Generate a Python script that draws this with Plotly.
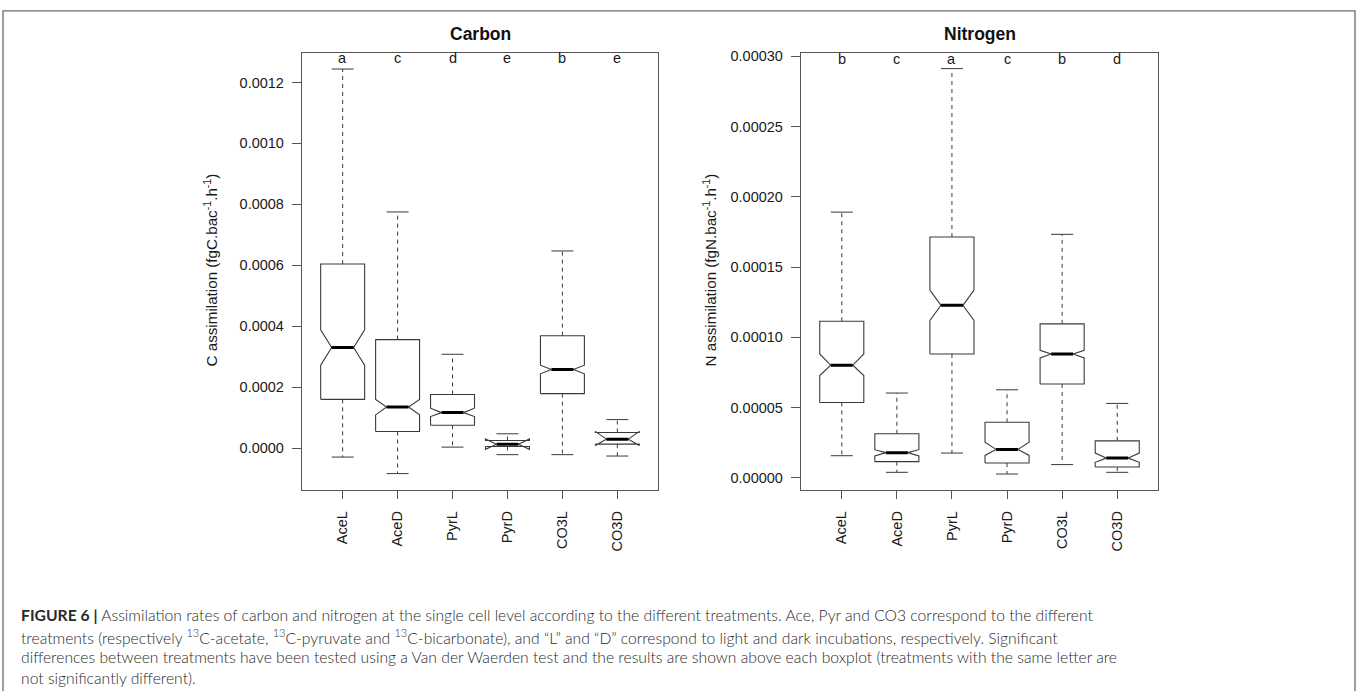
import plotly.graph_objects as go

W, H = 1360, 691

# ---- data -------------------------------------------------------------
treatments = ["AceL", "AceD", "PyrL", "PyrD", "CO3L", "CO3D"]

# Carbon assimilation (fgC.bac-1.h-1)
carbon_lower = [-0.0000294, -0.0000836, 0.0000033, -0.0000215, -0.0000215, -0.0000260]
carbon_q1 = [0.000160, 0.0000545, 0.0000750, 0.0000055, 0.000179, 0.0000130]
carbon_notch_lo = [0.000272, 0.000109, 0.0001034, -0.000004, 0.000244, 0.0000085]
carbon_median = [0.000330, 0.000135, 0.0001165, 0.0000130, 0.000258, 0.0000294]
carbon_notch_hi = [0.000388, 0.000160, 0.000131, 0.000030, 0.000272, 0.0000550]
carbon_q3 = [0.000604, 0.000356, 0.000176, 0.0000250, 0.000369, 0.0000512]
carbon_upper = [0.001244, 0.000775, 0.000308, 0.0000470, 0.000647, 0.0000936]
carbon_letters = ["a", "c", "d", "e", "b", "e"]

# Nitrogen assimilation (fgN.bac-1.h-1)
nitrogen_lower = [0.0000158, 0.0000040, 0.0000177, 0.0000028, 0.0000095, 0.0000040]
nitrogen_q1 = [0.0000537, 0.0000116, 0.0000882, 0.0000106, 0.0000668, 0.0000078]
nitrogen_notch_lo = [0.0000728, 0.0000156, 0.0001120, 0.0000160, 0.0000854, 0.0000111]
nitrogen_median = [0.0000802, 0.0000180, 0.0001228, 0.0000203, 0.0000881, 0.0000141]
nitrogen_notch_hi = [0.0000882, 0.0000201, 0.0001337, 0.0000255, 0.0000908, 0.0000177]
nitrogen_q3 = [0.0001115, 0.0000314, 0.0001714, 0.0000396, 0.0001096, 0.0000264]
nitrogen_upper = [0.0001891, 0.0000604, 0.0002912, 0.0000627, 0.0001733, 0.0000530]
nitrogen_letters = ["b", "c", "a", "c", "b", "d"]

carbon_ticks = [0.0, 0.0002, 0.0004, 0.0006, 0.0008, 0.0010, 0.0012]
nitrogen_ticks = [0.0, 0.00005, 0.00010, 0.00015, 0.00020, 0.00025, 0.00030]

# ---- styling ----------------------------------------------------------
FONT = "Liberation Sans, Arial, sans-serif"
LINE = "#3a3a3a"
FRAME = "#555555"
HALF = 0.4          # half box width (boxwex 0.8)
NOTCH = 0.5         # notch indentation fraction
STAPLE = 0.2        # half staple width


def notched_box_traces(lower, q1, nlo, med, nhi, q3, upper, xa, ya):
    bx, by, wx, wy, sx, sy, mx, my = [], [], [], [], [], [], [], []
    for i in range(len(med)):
        c = i + 1
        w = HALF
        bx += [c - w, c - w, c - w * NOTCH, c - w, c - w, c + w, c + w,
               c + w * NOTCH, c + w, c + w, c - w, None]
        by += [q1[i], nlo[i], med[i], nhi[i], q3[i], q3[i], nhi[i],
               med[i], nlo[i], q1[i], q1[i], None]
        wx += [c, c, None, c, c, None]
        wy += [q3[i], upper[i], None, q1[i], lower[i], None]
        sx += [c - STAPLE, c + STAPLE, None, c - STAPLE, c + STAPLE, None]
        sy += [upper[i], upper[i], None, lower[i], lower[i], None]
        mx += [c - w * NOTCH, c + w * NOTCH, None]
        my += [med[i], med[i], None]
    common = dict(xaxis=xa, yaxis=ya, mode="lines", showlegend=False,
                  hoverinfo="skip")
    return [
        go.Scatter(x=wx, y=wy, line=dict(color=LINE, width=1, dash="4px,4px"), **common),
        go.Scatter(x=sx, y=sy, line=dict(color=LINE, width=1), **common),
        go.Scatter(x=bx, y=by, line=dict(color=LINE, width=1.1), **common),
        go.Scatter(x=mx, y=my, line=dict(color="#000000", width=3), **common),
    ]


fig = go.Figure()
for t in notched_box_traces(carbon_lower, carbon_q1, carbon_notch_lo, carbon_median,
                            carbon_notch_hi, carbon_q3, carbon_upper, "x", "y"):
    fig.add_trace(t)
for t in notched_box_traces(nitrogen_lower, nitrogen_q1, nitrogen_notch_lo, nitrogen_median,
                            nitrogen_notch_hi, nitrogen_q3, nitrogen_upper, "x2", "y2"):
    fig.add_trace(t)

# panel geometry (pixels)
L1, R1 = 302, 658
L2, R2 = 801, 1158
TOP, BOT = 49, 489
ydom = [1 - BOT / H, 1 - TOP / H]

xaxis_common = dict(
    range=[0.26, 6.74], tickvals=list(range(1, 7)), ticktext=treatments,
    tickangle=-90, ticks="outside", ticklen=8, tickcolor=FRAME, tickwidth=1,
    ticklabelstandoff=6,
    showline=True, linecolor=FRAME, linewidth=1.3, mirror=True,
    showgrid=False, zeroline=False,
    tickfont=dict(family=FONT, size=14.5, color="#1a1a1a"),
)
yaxis_common = dict(
    ticks="outside", ticklen=9, tickcolor=FRAME, tickwidth=1,
    ticklabelstandoff=5,
    showline=True, linecolor=FRAME, linewidth=1.3, mirror=True,
    showgrid=False, zeroline=False,
    tickfont=dict(family=FONT, size=14.5, color="#1a1a1a"),
)

fig.update_layout(
    width=W, height=H,
    margin=dict(l=0, r=0, t=0, b=0),
    paper_bgcolor="white", plot_bgcolor="white",
    xaxis=dict(domain=[L1 / W, R1 / W], anchor="y", **xaxis_common),
    yaxis=dict(domain=ydom, anchor="x", range=[-0.000138, 0.0012976],
               tickvals=carbon_ticks, tickformat=".4f", **yaxis_common),
    xaxis2=dict(domain=[L2 / W, R2 / W], anchor="y2", **xaxis_common),
    yaxis2=dict(domain=ydom, anchor="x2", range=[-0.0000087, 0.0003025],
                tickvals=nitrogen_ticks, tickformat=".5f", **yaxis_common),
)

ann = []
# significance letters above each box
for i, s in enumerate(carbon_letters):
    ann.append(dict(x=i + 1, y=0.00128, xref="x", yref="y", text=s, showarrow=False,
                    yanchor="middle",
                    font=dict(family=FONT, size=14.5, color="#1a1a1a")))
for i, s in enumerate(nitrogen_letters):
    ann.append(dict(x=i + 1, y=0.000298, xref="x2", yref="y2", text=s, showarrow=False,
                    yanchor="middle",
                    font=dict(family=FONT, size=14.5, color="#1a1a1a")))

# panel titles
for cx, title in [((L1 + R1) / 2, "Carbon"), ((L2 + R2) / 2, "Nitrogen")]:
    ann.append(dict(x=cx / W, y=1 - 30 / H, xref="paper", yref="paper",
                    text=f"<b>{title}</b>", showarrow=False,
                    xanchor="center", yanchor="middle",
                    font=dict(family=FONT, size=17.5, color="#111111")))

# y-axis titles
for cx, lab in [(210, "C assimilation (fgC.bac<sup>-1</sup>.h<sup>-1</sup>)"),
                (709, "N assimilation (fgN.bac<sup>-1</sup>.h<sup>-1</sup>)")]:
    ann.append(dict(x=cx / W, y=1 - 268 / H, xref="paper", yref="paper",
                    text=lab, textangle=-90, showarrow=False,
                    xanchor="center", yanchor="middle",
                    font=dict(family=FONT, size=15.2, color="#1a1a1a")))

# caption
CAP_FONT = dict(family="Lato, sans-serif", size=15.7, color="#2a2a2a", weight=300)
caption_lines = [
    "<b>FIGURE 6 |</b> Assimilation rates of carbon and nitrogen at the single cell level "
    "according to the different treatments. Ace, Pyr and CO3 correspond to the different",
    "treatments (respectively <sup>13</sup>C-acetate, <sup>13</sup>C-pyruvate and "
    "<sup>13</sup>C-bicarbonate), and \u201cL\u201d and \u201cD\u201d correspond to light "
    "and dark incubations, respectively. Significant",
    "differences between treatments have been tested using a Van der Waerden test and "
    "the results are shown above each boxplot (treatments with the same letter are",
    "not significantly different).",
]
for k, line in enumerate(caption_lines):
    ann.append(dict(x=19 / W, y=1 - (615 + 20.9 * k) / H, xref="paper", yref="paper",
                    text=line, showarrow=False, xanchor="left", yanchor="middle",
                    font=CAP_FONT))

fig.update_layout(annotations=ann)

# outer frame around the figure
fig.add_shape(type="rect", xref="paper", yref="paper",
              x0=3 / W, x1=1355 / W, y0=1 - 700 / H, y1=1 - 7 / H,
              line=dict(color="#6a6a6a", width=1.3), fillcolor="rgba(0,0,0,0)")

fig.write_html("out.html")
